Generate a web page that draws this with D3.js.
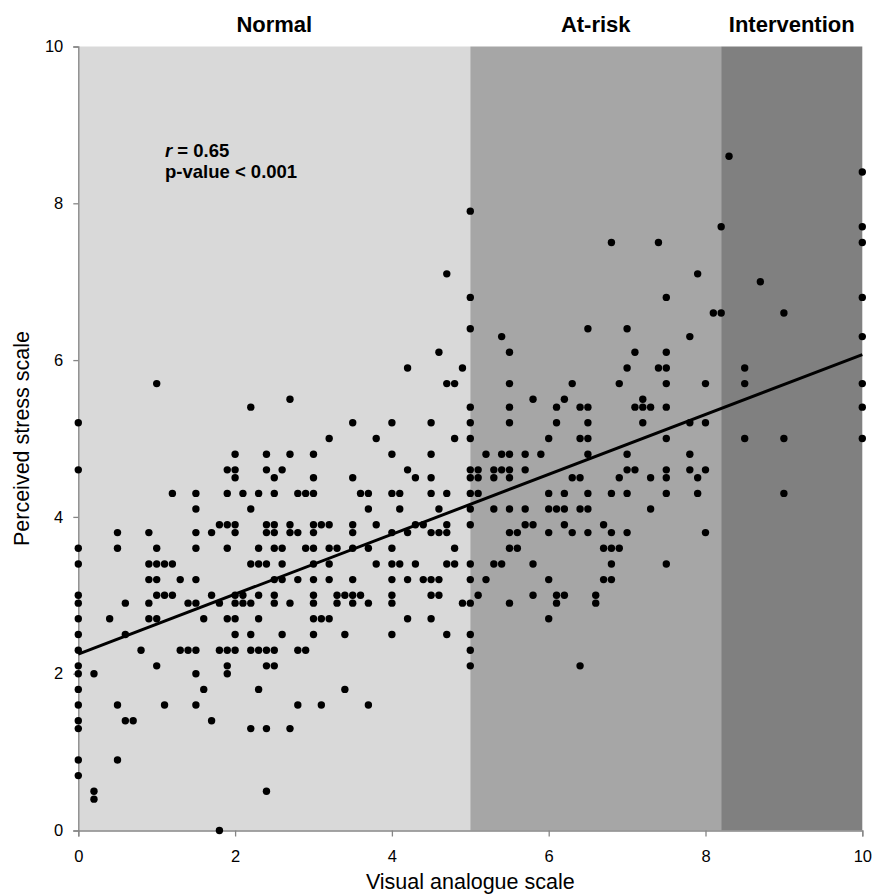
<!DOCTYPE html>
<html>
<head>
<meta charset="utf-8">
<script src="https://cdn.jsdelivr.net/npm/d3@7"></script>
<style>
  body { margin: 0; background: #fff; }
  svg text { font-family: "Liberation Sans", Arial, sans-serif; }
</style>
</head>
<body>
<div class="vis-scatter"></div>
<script>
// zones on the VAS axis
const zoneNames = ['Normal', 'At-risk', 'Intervention'];
const zoneStarts = [0, 5, 8.2];
const zoneEnds = [5, 8.2, 10];
const zoneColors = ['#d9d9d9', '#a6a6a6', '#808080'];

const xTicks = [0, 2, 4, 6, 8, 10];
const yTicks = [0, 2, 4, 6, 8, 10];

// fitted line
const fitIntercept = 2.25;
const fitSlope = 0.382;
const rText = '0.65';
const pText = 'p-value < 0.001';

// points as [stress, vas values...] grouped by stress level
const normalRows = [
    [7.1, 4.7],
    [6.1, 4.6],
    [5.9, 4.2, 4.9],
    [5.7, 1.0, 4.7, 4.8],
    [5.5, 2.7],
    [5.4, 2.2],
    [5.2, 0, 3.5, 4.0, 4.5],
    [5.0, 3.2, 3.8, 4.8],
    [4.8, 2.0, 2.4, 2.7, 3.0, 4.0, 4.5],
    [4.6, 0, 1.9, 2.0, 2.4, 2.6, 4.2],
    [4.5, 2.0, 2.5, 3.0, 3.5, 4.3, 4.5],
    [4.3, 1.2, 1.5, 1.9, 2.1, 2.3, 2.5, 2.8, 2.9, 3.0, 3.6, 3.7, 4.0, 4.1, 4.5, 4.7],
    [4.1, 1.5, 2.2, 3.7, 4.1, 4.6],
    [3.9, 1.8, 1.9, 2.0, 2.4, 2.5, 2.7, 3.0, 3.1, 3.2, 3.5, 3.8, 4.3, 4.4, 4.7],
    [3.8, 0.5, 0.9, 1.5, 1.7, 2.0, 2.4, 2.5, 2.7, 2.8, 3.0, 3.5, 4.0, 4.2, 4.5, 4.6, 4.7],
    [3.6, 0, 0.5, 1.0, 1.5, 1.9, 2.3, 2.5, 2.6, 2.9, 3.0, 3.2, 3.3, 3.5, 3.7, 4.0, 4.8],
    [3.4, 0, 0.9, 1.0, 1.1, 1.2, 2.2, 2.3, 2.4, 2.6, 3.0, 3.2, 3.8, 4.0, 4.1, 4.3, 4.7, 4.8],
    [3.2, 0.9, 1.0, 1.3, 1.5, 2.5, 2.6, 2.8, 3.0, 3.2, 3.5, 4.0, 4.2, 4.4, 4.5, 4.6],
    [3.0, 0, 1.0, 1.1, 1.2, 1.7, 2.0, 2.1, 2.3, 2.5, 3.0, 3.3, 3.4, 3.5, 3.6, 4.0, 4.5, 4.6],
    [2.9, 0, 0.6, 0.9, 1.4, 1.5, 1.8, 2.0, 2.1, 2.2, 2.5, 2.7, 3.0, 3.3, 3.5, 3.7, 4.0, 4.9],
    [2.7, 0, 0.4, 0.9, 1.0, 1.6, 1.9, 2.0, 2.3, 3.0, 3.1, 3.2, 4.2, 4.5],
    [2.5, 0, 0.6, 2.0, 2.2, 2.6, 3.0, 3.4, 4.0, 4.7],
    [2.3, 0, 0.8, 1.3, 1.4, 1.5, 1.8, 1.9, 2.0, 2.2, 2.3, 2.4, 2.5, 2.8, 2.9],
    [2.1, 0, 1.0, 1.9, 2.4, 2.5],
    [2.0, 0, 0.2, 1.5, 1.9],
    [1.8, 0, 1.6, 2.3, 3.4],
    [1.6, 0, 0.5, 1.1, 1.5, 2.8, 3.1, 3.7],
    [1.4, 0, 0.6, 0.7, 1.7],
    [1.3, 0, 2.2, 2.4, 2.7],
    [0.9, 0, 0.5],
    [0.7, 0],
    [0.5, 0.2, 2.4],
    [0.4, 0.2],
    [0.0, 1.8]
];

const atRiskRows = [
    [8.6, 8.3],
    [8.4, 10],
    [7.9, 5.0],
    [7.7, 8.2, 10],
    [7.5, 6.8, 7.4, 10],
    [7.1, 7.9],
    [7.0, 8.7],
    [6.8, 5.0, 7.5, 10],
    [6.6, 8.1, 8.2, 9.0],
    [6.4, 5.0, 6.5, 7.0],
    [6.3, 5.4, 7.8, 10],
    [6.1, 5.5, 7.1, 7.5],
    [5.9, 7.0, 7.4, 7.5, 8.5],
    [5.7, 5.5, 6.3, 6.9, 7.5, 8.0, 8.5, 10],
    [5.5, 5.8, 6.2, 7.2],
    [5.4, 5.0, 5.5, 6.1, 6.4, 6.5, 7.1, 7.2, 7.3, 7.5, 10],
    [5.2, 5.0, 5.5, 6.1, 6.5, 7.2, 7.8, 8.0],
    [5.0, 5.0, 6.0, 6.4, 6.5, 7.5, 8.5, 9.0, 10],
    [4.8, 5.2, 5.4, 5.5, 5.7, 5.9, 6.5, 7.0, 7.8],
    [4.6, 5.0, 5.1, 5.3, 5.4, 5.5, 5.7, 7.0, 7.1, 7.5, 7.8, 8.0],
    [4.5, 5.0, 5.1, 5.3, 5.5, 6.3, 6.4, 6.9, 7.3, 7.5, 7.9],
    [4.3, 5.0, 5.1, 6.0, 6.2, 6.5, 6.8, 7.0, 7.5, 7.9, 9.0],
    [4.1, 5.0, 5.3, 5.5, 5.7, 6.0, 6.1, 6.2, 6.4, 6.5, 7.3],
    [3.9, 5.0, 5.7, 5.8, 6.2, 6.7],
    [3.8, 5.5, 5.6, 6.0, 6.3, 6.5, 6.8, 7.0, 8.0],
    [3.6, 5.5, 5.6, 6.7, 6.8, 6.9],
    [3.4, 5.0, 5.3, 5.4, 5.8, 6.8, 7.5],
    [3.2, 5.0, 5.2, 6.0, 6.7, 6.8],
    [3.0, 5.1, 5.8, 6.1, 6.2, 6.6],
    [2.9, 5.0, 5.5, 6.1, 6.6],
    [2.7, 6.0],
    [2.5, 5.0],
    [2.3, 5.0],
    [2.1, 5.0, 6.4]
];

const points = [];
normalRows.concat(atRiskRows).forEach(row => {
    row.slice(1).forEach(v => points.push({ vas: v, pss: row[0] }));
});

const W = 876, H = 896;
const margin = { top: 46.5, right: 13.7, bottom: 65.5, left: 78.3 };

const svg = d3.select('.vis-scatter')
    .append('svg')
    .attr('width', W)
    .attr('height', H);

const x = d3.scaleLinear().domain([0, 10]).range([margin.left, W - margin.right]);
const y = d3.scaleLinear().domain([0, 10]).range([H - margin.bottom, margin.top]);

// background zones
svg.selectAll('.zone')
    .data(zoneNames)
    .enter().append('rect')
    .attr('class', 'zone')
    .attr('x', (d, i) => x(zoneStarts[i]))
    .attr('width', (d, i) => x(zoneEnds[i]) - x(zoneStarts[i]))
    .attr('y', y(10))
    .attr('height', y(0) - y(10))
    .attr('fill', (d, i) => zoneColors[i]);

svg.selectAll('.zone-label')
    .data(zoneNames)
    .enter().append('text')
    .attr('class', 'zone-label')
    .attr('x', (d, i) => x((zoneStarts[i] + zoneEnds[i]) / 2))
    .attr('y', 32)
    .attr('text-anchor', 'middle')
    .style('font-size', '22px')
    .style('font-weight', 'bold')
    .text(d => d);

// axes
const yAxis = svg.append('g')
    .attr('transform', 'translate(' + x(0) + ',0)')
    .call(d3.axisLeft(y).tickValues(yTicks).tickSize(5).tickPadding(10).tickFormat(d3.format('d')));
const xAxis = svg.append('g')
    .attr('transform', 'translate(0,' + y(0) + ')')
    .call(d3.axisBottom(x).tickValues(xTicks).tickSize(6).tickPadding(14).tickFormat(d3.format('d')));

[xAxis, yAxis].forEach(g => {
    g.select('.domain').attr('stroke', '#868686').attr('stroke-width', 1.3);
    g.selectAll('.tick line').attr('stroke', '#868686').attr('stroke-width', 1.3);
    g.selectAll('.tick text')
        .style('font-size', '16.5px')
        .style('font-family', '"Liberation Sans", Arial, sans-serif')
        .attr('fill', '#000');
});

// points
svg.append('g')
    .selectAll('circle')
    .data(points)
    .enter().append('circle')
    .attr('cx', d => x(d.vas))
    .attr('cy', d => y(d.pss))
    .attr('r', 3.7)
    .attr('fill', '#000');

// fitted line
svg.append('line')
    .attr('x1', x(0))
    .attr('y1', y(fitIntercept))
    .attr('x2', x(10))
    .attr('y2', y(fitIntercept + fitSlope * 10))
    .attr('stroke', '#000')
    .attr('stroke-width', 3);

// stats annotation
const note = svg.append('text')
    .attr('x', 165)
    .attr('y', 157)
    .style('font-size', '18.5px')
    .style('font-weight', 'bold');
note.append('tspan').style('font-style', 'italic').text('r');
note.append('tspan').text(' = ' + rText);
svg.append('text')
    .attr('x', 165)
    .attr('y', 178)
    .style('font-size', '18.5px')
    .style('font-weight', 'bold')
    .text(pText);

// axis titles
svg.append('text')
    .attr('x', (x(0) + x(10)) / 2)
    .attr('y', 889)
    .attr('text-anchor', 'middle')
    .style('font-size', '21.5px')
    .text('Visual analogue scale');

svg.append('text')
    .attr('transform', 'translate(29,' + ((y(0) + y(10)) / 2) + ') rotate(-90)')
    .attr('text-anchor', 'middle')
    .style('font-size', '21.5px')
    .text('Perceived stress scale');
</script>
</body>
</html>
